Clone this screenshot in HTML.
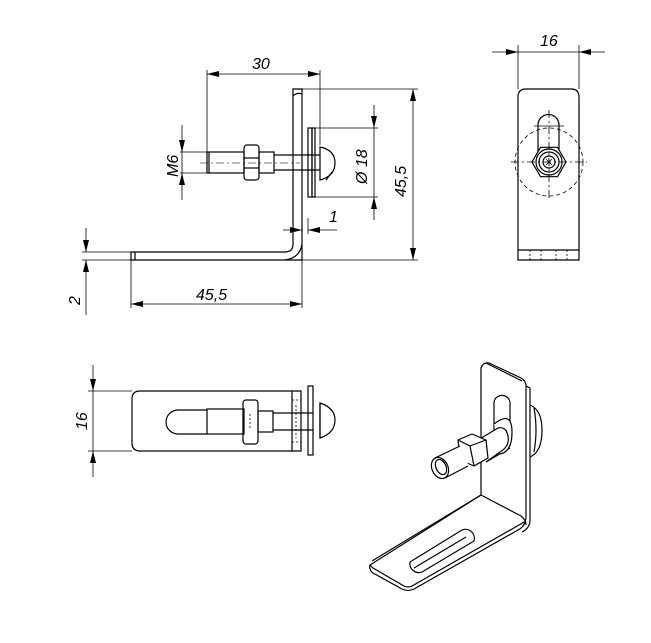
<!DOCTYPE html>
<html><head><meta charset="utf-8"><style>
html,body{margin:0;padding:0;background:#fff;}
svg{display:block;}
text{font-family:"Liberation Sans",sans-serif;font-style:italic;font-size:16px;fill:#000;}
</style></head><body>
<svg width="651" height="643" viewBox="0 0 651 643" xmlns="http://www.w3.org/2000/svg">
<defs>
<marker id="a" viewBox="0 0 12 6" refX="12" refY="3" markerWidth="12" markerHeight="6" orient="auto-start-reverse" markerUnits="userSpaceOnUse">
<path d="M0,0 L12,3 L0,6 z" fill="#000"/></marker>
</defs>
<g fill="none" stroke="#000" stroke-width="1.2">
<path d="M293,89 H302 V260 H131 V252 H285 Q293,252 293,244 Z"/>
<path d="M293,96 Q297,92 302,94"/>
<path d="M285,260 Q300,258 302,244"/>
<line x1="135" y1="252" x2="135" y2="260"/>
<rect x="308" y="128" width="4" height="69"/>
<rect x="312" y="128" width="3" height="69"/>
<path d="M320,147 Q335,150 335,163 Q335,176 320,180 Z"/>
<path d="M326,180 L332,172"/>
<rect x="207" y="152" width="37" height="21"/>
<rect x="259" y="152" width="15" height="21"/>
<line x1="209" y1="152" x2="209" y2="173"/>
<rect x="244" y="145" width="15" height="35" rx="3"/>
<line x1="244" y1="158" x2="259" y2="158"/><line x1="244" y1="168" x2="259" y2="168"/>
<path d="M274,155 H320 M274,170 H320"/>
<line x1="200" y1="163" x2="300" y2="163" stroke-width="0.6" stroke-dasharray="8,3,2,3"/>
</g>
<g fill="none" stroke="#000" stroke-width="0.8">
<line x1="207" y1="74" x2="320" y2="74" marker-start="url(#a)" marker-end="url(#a)"/>
<line x1="207" y1="70" x2="207" y2="152"/>
<line x1="320" y1="70" x2="320" y2="145"/>
<line x1="302" y1="89" x2="418" y2="89"/>
<line x1="302" y1="260" x2="418" y2="260"/>
<line x1="413" y1="89" x2="413" y2="260" marker-start="url(#a)" marker-end="url(#a)"/>
<line x1="315" y1="128" x2="378" y2="128"/>
<line x1="315" y1="197" x2="378" y2="197"/>
<line x1="374" y1="105" x2="374" y2="128" marker-end="url(#a)"/>
<line x1="374" y1="220" x2="374" y2="197" marker-end="url(#a)"/>
<line x1="374" y1="128" x2="374" y2="197"/>
<line x1="182" y1="125" x2="182" y2="152" marker-end="url(#a)"/>
<line x1="182" y1="200" x2="182" y2="173" marker-end="url(#a)"/>
<line x1="182" y1="152" x2="182" y2="173"/>
<line x1="180" y1="152" x2="207" y2="152"/>
<line x1="180" y1="173" x2="207" y2="173"/>
<line x1="302" y1="218" x2="302" y2="234"/>
<line x1="308" y1="218" x2="308" y2="234"/>
<line x1="283" y1="230" x2="302" y2="230" marker-end="url(#a)"/>
<line x1="337" y1="230" x2="308" y2="230" marker-end="url(#a)"/>
<line x1="82" y1="252" x2="131" y2="252"/>
<line x1="82" y1="260" x2="131" y2="260"/>
<line x1="86" y1="228" x2="86" y2="252" marker-end="url(#a)"/>
<line x1="86" y1="315" x2="86" y2="260" marker-end="url(#a)"/>
<line x1="131" y1="260" x2="131" y2="308"/>
<line x1="302" y1="260" x2="302" y2="308"/>
<line x1="131" y1="304" x2="302" y2="304" marker-start="url(#a)" marker-end="url(#a)"/>
</g>
<text x="252" y="69">30</text>
<text x="329" y="222">1</text>
<text x="196" y="300">45,5</text>
<text transform="translate(406,197) rotate(-90)">45,5</text>
<text transform="translate(367,184) rotate(-90)">Ø 18</text>
<text transform="translate(178,177) rotate(-90)">M6</text>
<text transform="translate(80,305) rotate(-90)">2</text>

<g fill="none" stroke="#000" stroke-width="1.2">
<path d="M518,260 V97 Q518,89 526,89 H571 Q579,89 579,97 V260 Z"/>
<line x1="518" y1="250" x2="579" y2="250"/>
<path d="M538,165 V125 A10.5,10.5 0 0 1 559,125 V165"/>
<line x1="534" y1="126" x2="564" y2="126" stroke-width="0.8"/>
<polygon points="566,162 557.5,176.7 540.5,176.7 532,162 540.5,147.3 557.5,147.3" fill="#fff"/>
<circle cx="549" cy="162" r="13"/>
<circle cx="549" cy="162" r="10"/>
<circle cx="549" cy="162" r="6"/>
</g>
<g fill="none" stroke="#000" stroke-width="0.8">
<circle cx="549" cy="162" r="34" stroke-dasharray="4,3"/>
<line x1="511" y1="162" x2="587" y2="162" stroke-dasharray="8,3,2,3"/>
<line x1="549" y1="110" x2="549" y2="200" stroke-dasharray="8,3,2,3"/>
<path d="M546,159 L552,165 M552,159 L546,165"/>
<line x1="530" y1="250" x2="530" y2="260" stroke-dasharray="2,2"/>
<line x1="541" y1="250" x2="541" y2="260" stroke-dasharray="2,2"/>
<line x1="556" y1="250" x2="556" y2="260" stroke-dasharray="2,2"/>
<line x1="567" y1="250" x2="567" y2="260" stroke-dasharray="2,2"/>
<line x1="518" y1="45" x2="518" y2="89"/>
<line x1="579" y1="45" x2="579" y2="89"/>
<line x1="492" y1="52" x2="518" y2="52" marker-end="url(#a)"/>
<line x1="605" y1="52" x2="579" y2="52" marker-end="url(#a)"/>
<line x1="518" y1="52" x2="579" y2="52"/>
</g>
<text x="540" y="46">16</text>

<g fill="none" stroke="#000" stroke-width="1.2">
<path d="M301,391 H140 Q132,391 132,399 V443 Q132,451 140,451 H301 Z"/>
<line x1="292" y1="391" x2="292" y2="451"/>
<path d="M207,410 H178 A12,12 0 0 0 178,434 H207"/>
<rect x="207" y="409" width="37" height="25"/>
<rect x="258" y="411" width="15" height="21"/>
<rect x="243" y="400" width="15" height="44" rx="3"/>
<path d="M273,413 H313 M273,430 H313"/>
<rect x="308" y="386" width="5" height="69"/>
<path d="M320,403 Q335,408 335,420 Q335,433 320,438 Z"/>
<line x1="320" y1="403" x2="320" y2="438"/>
</g>
<g fill="none" stroke="#000" stroke-width="0.8">
<line x1="292" y1="400" x2="301" y2="400" stroke-dasharray="2,2"/>
<line x1="292" y1="442" x2="301" y2="442" stroke-dasharray="2,2"/>
<line x1="296" y1="405" x2="296" y2="438" stroke-dasharray="2,2"/>
<line x1="250" y1="414" x2="250" y2="430" stroke-dasharray="2,2"/>
<line x1="88" y1="391" x2="132" y2="391"/>
<line x1="88" y1="451" x2="132" y2="451"/>
<line x1="93" y1="365" x2="93" y2="391" marker-end="url(#a)"/>
<line x1="93" y1="477" x2="93" y2="451" marker-end="url(#a)"/>
<line x1="93" y1="391" x2="93" y2="451"/>
</g>
<text transform="translate(87,430) rotate(-90)">16</text>

<!-- ISOMETRIC -->
<g fill="none" stroke="#000" stroke-width="1.2" stroke-linejoin="round">
<path d="M481,495 V368 Q483,362 489,363 L521,378 Q526,381 526,386 V516 Q526,526 518,530 L414,589 Q408,592 402,589 L373,573 Q369,570 370,565 Z" fill="#fff"/>
<path d="M481,495 L521,516 Q526,520 526,525"/>
<path d="M486,363 L522,381 M526,386 L530,388 V520 Q530,528 522,532"/>
<path d="M370,565 L373,568 L404,586 Q408,588 412,586 L526,521"/>
<path d="M481,495 L372,561"/>
<path d="M410,562 L462,530 A9,9 0 0 1 474,541 L422,572 A9,9 0 0 1 410,562 Z"/>
<path d="M414,568 L466,537"/>
<path d="M494,440 V402 A8,8 0 0 1 510,405 V444"/>
<path d="M530,405 Q542,410 542,430 Q542,452 530,457"/>
<path d="M534,408 Q538,430 534,452"/>
<!-- shank + washer-like flare -->
<path d="M478,440 L500,428 M486,462 L510,448" />
<path d="M494,424 Q512,410 512,432 Q512,452 500,454" fill="#fff"/>
<path d="M478,440 L498,428 Q506,426 508,436 Q510,446 500,452 L486,462" fill="#fff"/>
<!-- nut -->
<path d="M458,440 L472,434 L486,440 L488,458 L474,466 L460,460 Z" fill="#fff"/>
<path d="M458,440 L470,446 L486,440 M470,446 L474,466"/>
<!-- cylinder -->
<path d="M435,458 L460,446 L468,464 L445,478 Z" fill="#fff" stroke="none"/>
<path d="M435,458 L460,446 M445,478 L468,466"/>
<ellipse cx="440" cy="468" rx="8" ry="11" transform="rotate(-25 440 468)" fill="#fff"/>
<ellipse cx="441" cy="467" rx="5" ry="8" transform="rotate(-25 441 467)"/>
</g>
</svg>
</body></html>
